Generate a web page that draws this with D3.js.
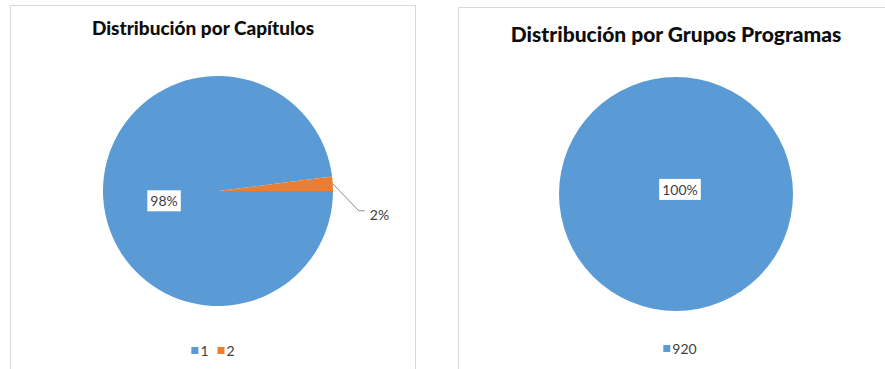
<!DOCTYPE html>
<html>
<head>
<meta charset="utf-8">
<script src="https://cdn.jsdelivr.net/npm/d3@7"></script>
<style>
  body { margin: 0; background: #fff; }
  text { font-family: Lato, "Open Sans", sans-serif; }
</style>
</head>
<body>
<div id="chart"></div>
<script>
// chart data
var capitulos = ["1", "2"];
var capitulosValues = [98, 2];
var grupos = ["920"];
var gruposValues = [100];

var colors = ["#5b9bd5", "#ed7d31"];

var svg = d3.select("#chart").append("svg")
    .attr("width", 885)
    .attr("height", 369);

// panel frames
svg.append("rect").attr("x", 10.5).attr("y", 5.5).attr("width", 405).attr("height", 380)
    .attr("fill", "#fff").attr("stroke", "#d9d9d9");
svg.append("rect").attr("x", 458.5).attr("y", 7.5).attr("width", 440).attr("height", 380)
    .attr("fill", "#fff").attr("stroke", "#d9d9d9");

function drawPie(opts) {
  var data = opts.cats.map(function(c, i) { return {cat: c, value: opts.values[i]}; });
  var total = d3.sum(data, function(d) { return d.value; });

  var pie = d3.pie().sort(null).value(function(d) { return d.value; })
      .startAngle(Math.PI / 2).endAngle(Math.PI / 2 + 2 * Math.PI);
  var arc = d3.arc().innerRadius(0).outerRadius(opts.r);
  var labelArc = d3.arc().innerRadius(opts.r * 0.47).outerRadius(opts.r * 0.47);

  var g = svg.append("g").attr("transform", "translate(" + opts.cx + "," + opts.cy + ")");

  // title
  svg.append("text")
      .attr("x", opts.titleX).attr("y", opts.titleY)
      .attr("text-anchor", "middle")
      .attr("font-size", opts.titleSize + "px")
      .attr("font-weight", "900")
      .attr("fill", "#0d0d0d")
      .text(opts.title);

  var arcs = pie(data);

  g.selectAll("path").data(arcs).enter().append("path")
      .attr("d", arc)
      .attr("fill", function(d, i) { return colors[i]; });

  arcs.forEach(function(d, i) {
    var pct = Math.round(d.data.value / total * 100) + "%";
    var span = d.endAngle - d.startAngle;
    if (span > 0.3) {
      // inside label with white box
      var c = arcs.length === 1 ? [4, -4] : labelArc.centroid(d);
      if (arcs.length > 1) c[1] += 7;
      var t = g.append("text")
          .attr("x", c[0]).attr("y", c[1])
          .attr("text-anchor", "middle")
          .attr("dy", "0.35em")
          .attr("font-size", "14px")
          .attr("fill", "#404040")
          .text(pct);
      var bb = t.node().getBBox();
      g.insert("rect", "text")
          .attr("x", bb.x - 3).attr("y", bb.y - 2)
          .attr("width", bb.width + 6).attr("height", bb.height + 4)
          .attr("fill", "#fff");
    } else {
      // outside label with leader line
      var mid = (d.startAngle + d.endAngle) / 2;
      var p0 = [opts.r * Math.sin(mid), -opts.r * Math.cos(mid)];
      var p1 = [p0[0] + 26, p0[1] + 27];
      var p2 = [p1[0] + 6, p1[1]];
      g.append("polyline")
          .attr("points", [p0, p1, p2].map(function(p) { return p.join(","); }).join(" "))
          .attr("fill", "none").attr("stroke", "#8c8c8c").attr("stroke-width", 1);
      g.append("text")
          .attr("x", p2[0] + 5).attr("y", p2[1] + 9)
          .attr("font-size", "14px")
          .attr("fill", "#404040")
          .text(pct);
    }
  });

  // legend
  var lg = svg.append("g");
  var x = 0;
  data.forEach(function(d, i) {
    var item = lg.append("g").attr("transform", "translate(" + x + ",0)");
    item.append("rect").attr("x", 0).attr("y", -4).attr("width", 7).attr("height", 7)
        .attr("fill", colors[i]);
    var t = item.append("text").attr("x", 9).attr("y", 0).attr("dy", "0.35em")
        .attr("font-size", "14px").attr("fill", "#404040").text(d.cat);
    x += 9 + t.node().getComputedTextLength() + 9;
  });
  var w = x - 9;
  lg.attr("transform", "translate(" + (opts.legendX - w / 2) + "," + opts.legendY + ")");
}

drawPie({
  cats: capitulos, values: capitulosValues,
  cx: 218, cy: 191, r: 115,
  title: "Distribución por Capítulos", titleX: 203, titleY: 35, titleSize: 19,
  legendX: 213, legendY: 351
});

drawPie({
  cats: grupos, values: gruposValues,
  cx: 676, cy: 194, r: 117,
  title: "Distribución por Grupos Programas", titleX: 676, titleY: 42, titleSize: 21,
  legendX: 680, legendY: 349
});
</script>
</body>
</html>
